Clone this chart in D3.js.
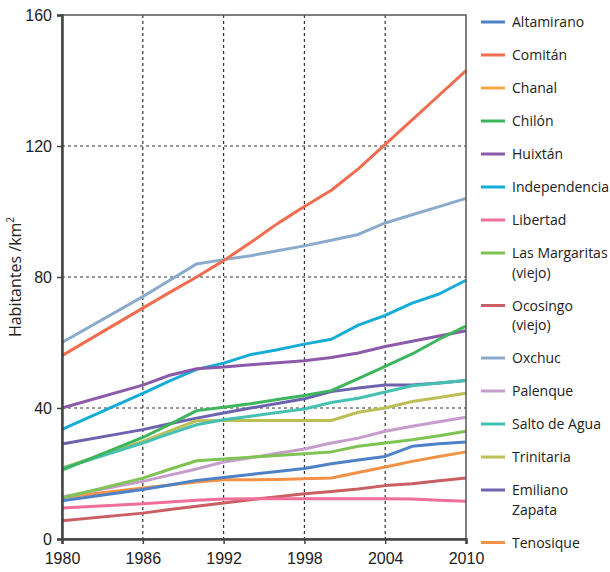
<!DOCTYPE html>
<html>
<head>
<meta charset="utf-8">
<script src="https://cdn.jsdelivr.net/npm/d3@7"></script>
<style>
  body { margin: 0; background: #fff; }
  svg { display: block; font-family: "Open Sans", "Noto Sans", sans-serif; }
  .tick-label { font-size: 16px; fill: #222; }
  .legend-text { font-size: 14px; fill: #222; }
  .grid line { stroke: #333; stroke-width: 1.2; stroke-dasharray: 3 3; }
</style>
</head>
<body>
<div id="chart"></div>
<script>
// Population density (hab/km²) by municipality, 1980–2010.
const WIDTH = 610;
const HEIGHT = 572;
const MARGIN = { top: 15, right: 144, bottom: 33, left: 62 };
const INNER_W = WIDTH - MARGIN.left - MARGIN.right;
const INNER_H = HEIGHT - MARGIN.top - MARGIN.bottom;

const years = [1980, 1986, 1988, 1990, 1992, 1994, 1996, 1998, 2000, 2002, 2004, 2006, 2008, 2010];
const xTicks = [1980, 1986, 1992, 1998, 2004, 2010];
const yTicks = [0, 40, 80, 120, 160];

const names = [
    "Altamirano", "Comitán", "Chanal", "Chilón", "Huixtán", "Independencia",
    "Libertad", "Las Margaritas (viejo)", "Ocosingo (viejo)", "Oxchuc",
    "Palenque", "Salto de Agua", "Trinitaria", "Emiliano Zapata", "Tenosique",
];
const colors = [
    "#4f81c7", "#f26c4f", "#f7a541", "#3cb55d", "#8b5aa8", "#16acd8",
    "#ef6e9a", "#7ec353", "#c95f62", "#8aabcc",
    "#c59ccc", "#45c1b3", "#bcbf55", "#6c62ad", "#f39146",
];
// legend labels that wrap onto a second line
const legendLines = {
    "Las Margaritas (viejo)": ["Las Margaritas", "(viejo)"],
    "Ocosingo (viejo)": ["Ocosingo", "(viejo)"],
    "Emiliano Zapata": ["Emiliano", "Zapata"],
};

const altamirano   = [11.7, 15.1, 16.5, 17.9, 18.8, 19.7, 20.6, 21.5, 23.0, 24.1, 25.2, 28.3, 29.1, 29.6];
const comitan      = [56.0, 70.5, 75.3, 80.0, 85.0, 90.5, 96.3, 101.5, 106.5, 113.0, 120.5, 128.0, 135.5, 143.0];
const chanal       = [];
const chilon       = [21.0, 31.0, 35.0, 39.2, 40.2, 41.3, 42.6, 43.8, 45.3, 49.0, 52.7, 56.5, 61.0, 65.0];
const huixtan      = [40.0, 47.0, 50.0, 52.0, 52.5, 53.2, 53.8, 54.4, 55.4, 56.8, 58.8, 60.4, 62.0, 63.6];
const independ     = [33.5, 44.5, 48.3, 51.8, 53.7, 56.3, 57.8, 59.5, 61.0, 65.3, 68.3, 72.0, 74.8, 79.0];
const libertad     = [9.5, 10.8, 11.3, 11.8, 12.2, 12.3, 12.3, 12.3, 12.3, 12.3, 12.3, 12.2, 11.8, 11.5];
const margaritas   = [12.5, 18.6, 21.3, 23.9, 24.4, 25.0, 25.5, 26.0, 26.6, 28.3, 29.3, 30.3, 31.5, 32.9];
const ocosingo     = [5.6, 7.9, 9.0, 10.0, 11.0, 12.0, 12.9, 13.8, 14.5, 15.3, 16.3, 16.9, 17.8, 18.6];
const oxchuc       = [60.0, 74.0, 79.0, 84.0, 85.3, 86.5, 88.0, 89.5, 91.2, 93.0, 96.5, 99.0, 101.5, 104.0];
const palenque     = [12.8, 17.6, 19.5, 21.4, 23.5, 24.8, 26.2, 27.5, 29.3, 30.8, 32.9, 34.4, 35.8, 37.2];
const saltoAgua    = [21.5, 29.3, 32.2, 34.9, 36.4, 37.5, 38.6, 39.7, 41.7, 43.0, 44.9, 46.8, 47.6, 48.4];
const trinitaria   = [21.7, 29.8, 33.0, 36.1, 36.2, 36.2, 36.2, 36.2, 36.2, 38.7, 40.0, 42.0, 43.2, 44.5];
const zapata       = [29.0, 33.4, 35.2, 36.9, 38.5, 40.0, 41.4, 42.8, 45.0, 46.1, 47.0, 47.0, 47.6, 48.4];
const tenosique    = [12.7, 15.6, 16.5, 17.4, 18.1, 18.1, 18.2, 18.4, 18.6, 20.3, 22.0, 23.7, 25.2, 26.6];

const valuesByName = [
    altamirano, comitan, chanal, chilon, huixtan, independ, libertad,
    margaritas, ocosingo, oxchuc, palenque, saltoAgua, trinitaria, zapata, tenosique,
];

const series = names.map((name, i) => ({
    name,
    color: colors[i],
    points: valuesByName[i].map((v, j) => ({ year: years[j], value: v })),
}));

const svg = d3.select("#chart")
    .append("svg")
    .attr("width", WIDTH)
    .attr("height", HEIGHT);

const g = svg.append("g")
    .attr("transform", `translate(${MARGIN.left},${MARGIN.top})`);

const x = d3.scaleLinear().domain([1980, 2010]).range([0, INNER_W]);
const y = d3.scaleLinear().domain([0, 160]).range([INNER_H, 0]);

// Dotted grid
const grid = g.append("g").attr("class", "grid");
grid.selectAll("line.v")
    .data(xTicks.slice(1, -1))
    .join("line")
    .attr("x1", (d) => x(d)).attr("x2", (d) => x(d))
    .attr("y1", 0).attr("y2", INNER_H);
grid.selectAll("line.h")
    .data(yTicks.slice(1, -1))
    .join("line")
    .attr("x1", 0).attr("x2", INNER_W)
    .attr("y1", (d) => y(d)).attr("y2", (d) => y(d));

// Lines (drawn in reverse so the first series sits on top)
const line = d3.line()
    .x((d) => x(d.year))
    .y((d) => y(d.value));

g.selectAll("path.series")
    .data(series.filter((s) => s.points.length).reverse())
    .join("path")
    .attr("class", "series")
    .attr("d", (d) => line(d.points))
    .attr("fill", "none")
    .attr("stroke", (d) => d.color)
    .attr("stroke-width", 3)
    .attr("stroke-linejoin", "round");

// Frame
g.append("rect")
    .attr("width", INNER_W).attr("height", INNER_H)
    .attr("fill", "none")
    .attr("stroke", "#555")
    .attr("stroke-width", 1.5);

// Axes
const xAxis = g.append("g")
    .attr("transform", `translate(0,${INNER_H})`)
    .call(d3.axisBottom(x).tickValues(xTicks).tickFormat(d3.format("d")).tickSize(5).tickPadding(9));
const yAxis = g.append("g")
    .call(d3.axisLeft(y).tickValues(yTicks).tickSize(5).tickPadding(5));

for (const ax of [xAxis, yAxis]) {
    ax.select(".domain").attr("stroke", "#444").attr("stroke-width", 2.5);
    ax.selectAll(".tick line").attr("stroke", "#444").attr("stroke-width", 1.5);
    ax.selectAll(".tick text")
        .attr("class", "tick-label")
        .attr("font-family", null)
        .attr("font-size", null);
}

// Y axis title
svg.append("text")
    .attr("class", "tick-label")
    .attr("transform", `translate(21,${MARGIN.top + INNER_H / 2}) rotate(-90)`)
    .attr("text-anchor", "middle")
    .html("Habitantes /km<tspan baseline-shift='super' font-size='10'>2</tspan>");

// Legend
const legend = svg.append("g")
    .attr("transform", "translate(481, 22)");
let ly = 0;
for (const s of series) {
    const lines = legendLines[s.name] || [s.name];
    const item = legend.append("g").attr("transform", `translate(0,${ly})`);
    item.append("line")
        .attr("x1", 0).attr("x2", 24)
        .attr("y1", 0).attr("y2", 0)
        .attr("stroke", s.color)
        .attr("stroke-width", 3);
    item.append("text")
        .attr("class", "legend-text")
        .attr("x", 31)
        .attr("y", 5)
        .selectAll("tspan")
        .data(lines)
        .join("tspan")
        .attr("x", 31)
        .attr("dy", (d, i) => (i ? 19.5 : 0))
        .text((d) => d);
    ly += 33 + (lines.length - 1) * 19.5;
}
</script>
</body>
</html>
